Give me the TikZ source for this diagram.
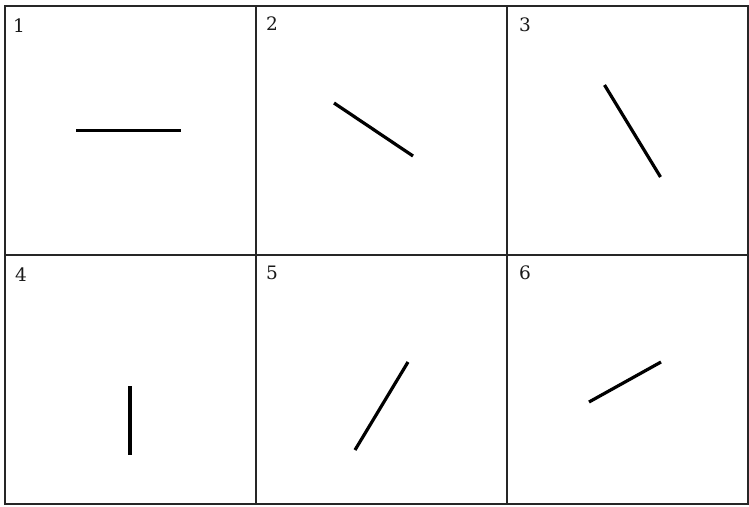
\documentclass[tikz,border=0pt]{standalone}
\usepackage{fontspec}
\newfontfamily\numfont{DejaVu Serif}
\begin{document}
\begin{tikzpicture}[x=1pt,y=-1pt,
  grid/.style={line width=1.7pt,black!85},
  stim/.style={line width=3.2pt,black},
  num/.style={anchor=center,inner sep=0pt,text=black!90,font=\numfont\fontsize{18.5}{22}\selectfont}]
\useasboundingbox (0,0) rectangle (749,506);
\fill[white] (0,0) rectangle (749,506);
% grid
\draw[grid] (5,6) rectangle (748,504);
\draw[grid,line width=2.4pt] (5,6) -- (748,6);
\draw[grid] (256,6) -- (256,504);
\draw[grid] (507,6) -- (507,504);
\draw[grid] (5,255) -- (748,255);
% panel numbers
\node[num] (n1) at (19,26) {1};
\node[num] (n2) at (272,24) {2};
\node[num] (n3) at (525,25) {3};
\node[num] (n4) at (21,275) {4};
\node[num] (n5) at (272,273) {5};
\node[num] (n6) at (525,273) {6};
% stimulus lines
\draw[stim] (76,130.5) -- (180.5,130.5);
\draw[stim] (334,103) -- (413,156);
\draw[stim] (604.5,85) -- (660.5,177);
\draw[stim] (130,386) -- (130,455);
\draw[stim] (355,450) -- (408,362);
\draw[stim] (589,402) -- (661,362);
\end{tikzpicture}
\end{document}
